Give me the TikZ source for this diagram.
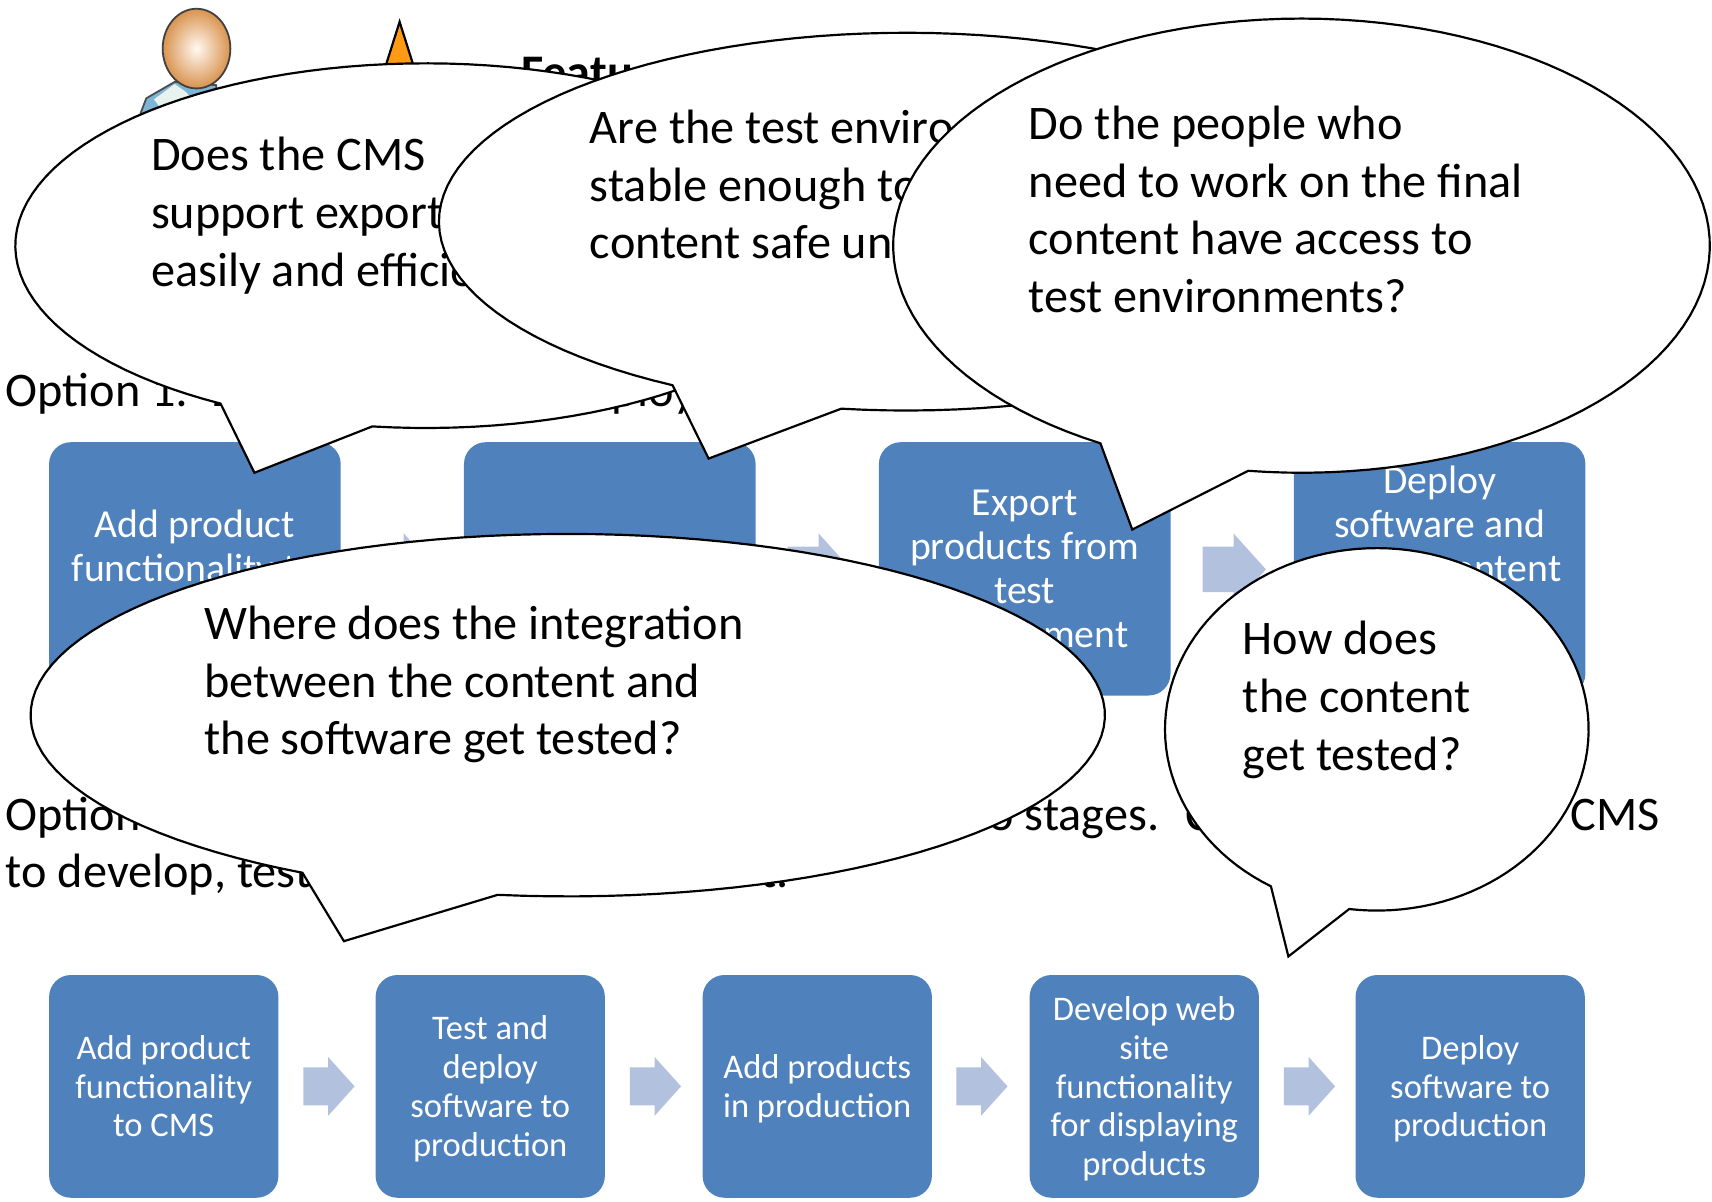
\documentclass[tikz,border=0pt]{standalone}
\usepackage{fontspec}
\setmainfont{Carlito}
\usetikzlibrary{shapes.arrows}
\definecolor{boxblue}{HTML}{4F81BD}
\definecolor{arrowblue}{HTML}{B2C1DD}
\definecolor{shirtblue}{HTML}{7DB5D6}
\definecolor{collar}{HTML}{E8F2EE}
\definecolor{skin}{HTML}{D9934E}
\definecolor{skinlight}{HTML}{FFF9F2}
\definecolor{marker}{HTML}{FF9A15}
\newcommand{\topline}{\rule{0pt}{17.4pt}}
\newcommand{\lowline}{\rule{0pt}{15.5pt}}
\tikzset{
	topbox/.style={fill=boxblue,text=white,rounded corners=11pt,minimum width=146.9pt,minimum height=127.6pt,inner sep=0pt,align=center,font=\fontsize{20}{22.2}\selectfont,execute at end node={\rule[-4.4pt]{0pt}{4.4pt}}},
	lowbox/.style={fill=boxblue,text=white,rounded corners=11pt,minimum width=115.5pt,minimum height=112.2pt,inner sep=0pt,align=center,font=\fontsize{17.4}{19.6}\selectfont,execute at end node={\rule[-3.8pt]{0pt}{3.8pt}}},
	bigarrow/.style={single arrow,fill=arrowblue,inner xsep=0pt,inner ysep=11.3pt,single arrow head extend=6.6pt,single arrow tip angle=96,minimum height=31.9pt},
	smallarrow/.style={single arrow,fill=arrowblue,inner xsep=0pt,inner ysep=9.35pt,single arrow head extend=5.2pt,single arrow tip angle=96,minimum height=25.8pt},
	bubble/.style={draw=black,fill=white,line width=1.1pt,line join=miter},
	bubbletext/.style={anchor=west,align=left,inner sep=0pt,font=\fontsize{24.3}{29}\selectfont},
	plaintext/.style={inner sep=0pt,font=\fontsize{24.3}{29}\selectfont}
}

\begin{document}
\begin{tikzpicture}[x=0.55pt,y=-0.55pt]
		\useasboundingbox (0,0) rectangle (1568,1100);

		% person and marker at the top
		\draw[line width=0.9pt,draw=black!70,fill=shirtblue] (129,103) -- (134,90) -- (160,75) -- (198,78) -- (198,120) -- (129,120) -- cycle;
		\fill[collar] (141,91) -- (160,77) -- (170,84) -- (178,93) -- (150,103) -- cycle;
		\shade[inner color=skinlight,outer color=skin,draw=black!75,line width=0.9pt] (180,44.5) ellipse (31 and 36.5);
		\draw[line width=1.1pt,fill=marker] (366,20) -- (385,80) -- (347,80) -- cycle;
		\node[plaintext,anchor=base west] (featu) at (477,81) {\bfseries Featu};

		% option 1
		\node[plaintext,anchor=base west] (opt1) at (5,372) {Option 1:};
		\node[plaintext,anchor=base west] (opt1d) at (193,372) {D};
		\node[plaintext,anchor=base west] (opt1p) at (560,372) {ploy};

		\node[topbox] (b1) at (178.5,521) {\topline Add product\\functionality to\\~};
		\node[topbox] (b2) at (558.5,521) {};
		\node[topbox] (b3) at (938.5,521) {\topline Export\\products from\\test\\environment};
		\node[topbox] (b4) at (1318.5,521) {\topline Deploy\\software and\\\hspace*{60pt}content\\~\\~};
		\node[bigarrow] (a1) at (361,521.5) {};
		\node[bigarrow] (a2) at (741,521.5) {};
		\node[bigarrow] (a3) at (1121,521.5) {};

		% option 2
		\node[plaintext,anchor=base west] (opt2) at (5,761) {Option};
		\node[plaintext,anchor=base east] (opt2s) at (1062,761) {o stages.};
		\node[plaintext,anchor=base west] (opt2c) at (1085,761) {C};
		\node[plaintext,anchor=base west] (opt2m) at (1438,761) {CMS};
		\node[plaintext,anchor=base west] (opt2l) at (5,813) {to develop, test};
		\node[plaintext,anchor=base east] (opt2t) at (723,813) {t.};

		\node[lowbox] (c1) at (150,995) {\lowline Add product\\functionality\\to CMS};
		\node[lowbox] (c2) at (449,995) {\lowline Test and\\deploy\\software to\\production};
		\node[lowbox] (c3) at (748.5,995) {\lowline Add products\\in production};
		\node[lowbox] (c4) at (1048,995) {\lowline Develop web\\site\\functionality\\for displaying\\products};
		\node[lowbox] (c5) at (1346.5,995) {\lowline Deploy\\software to\\production};
		\node[smallarrow] (d1) at (293.5,995) {};
		\node[smallarrow] (d2) at (592.5,995) {};
		\node[smallarrow] (d3) at (891.5,995) {};
		\node[smallarrow] (d4) at (1191.5,995) {};

		% speech bubbles on top of everything
		\coordinate (q1) at (233,433);
		\coordinate (q2) at (649,420);
		\coordinate (q3) at (1037,485);
		\coordinate (q4) at (315,862);
		\coordinate (q5) at (1180,876);

		\draw[bubble] plot[domain=120:457.5,samples=120] ({390+376*cos(\x)},{225+167*sin(\x)}) -- (q1) -- cycle;
		\node[bubbletext] (t1) at (138,197.5) {Does the CMS\\support export\\easily and efficie};
		\draw[bubble] plot[domain=120:458,samples=120] ({830+428*cos(\x)},{203+173*sin(\x)}) -- (q2) -- cycle;
		\node[bubbletext] (t2) at (540,169) {Are the test enviro\\stable enough to\\content safe un};
		\draw[bubble] plot[domain=119.5:457.5,samples=120] ({1192+374*cos(\x)},{225+208*sin(\x)}) -- (q3) -- cycle;
		\node[bubbletext] (t3) at (942,192) {Do the people who\\need to work on the final\\content have access to\\test environments?};
		\draw[bubble] plot[domain=119.6:457.5,samples=120] ({520+492*cos(\x)},{655+166*sin(\x)}) -- (q4) -- cycle;
		\node[bubbletext] (t4) at (187,627) {Where does the integration\\between the content and\\the software get tested?};
		\draw[bubble] plot[domain=120:457.5,samples=120] ({1261+194*cos(\x)},{668+166*sin(\x)}) -- (q5) -- cycle;
		\node[bubbletext] (t5) at (1138,641) {How does\\the content\\get tested?};

	\end{tikzpicture}
\end{document}
